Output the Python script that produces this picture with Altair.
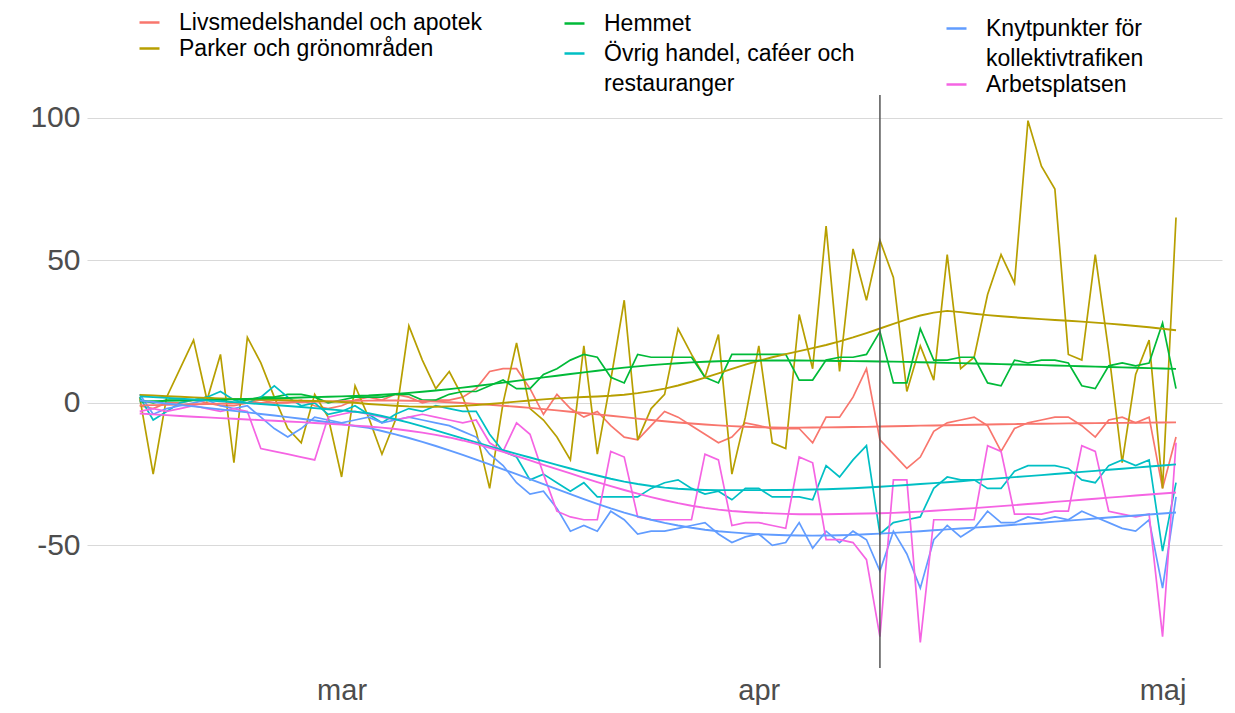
import altair as alt
import pandas as pd

# ---- data (Google mobility, Sverige, 15 feb - 2 maj 2020) ----
startar, startman, startdag = 2020, 2, 15
livsmedel = [-1,-2,0,0,1,0,-1, -1,0,1,0,0,1,-1, -2,-1,1,2,1,3,2, 0,1,1,2,5,11,12,
             12,5,-4,3,-2,-5,-3, -8,-12,-13,-8,-3,-5,-8, -11,-14,-12,-7,-8,-9,-9,
             -9,-14,-5,-5,2,12,-13, -18,-23,-19,-10,-7,-6,-5, -8,-17,-9,-7,-6,-5,-5,
             -8,-12,-6,-5,-7,-5,-30, -12]
parker = [2,-25,2,12,22,1,17, -21,23,14,2,-9,-14,3, -5,-26,6,-5,-18,-6,27,
          15,5,11,2,-10,-30,0, 21,-2,-6,-12,-20,20,-18, 8,36,-13,-2,3,26,17,
          9,24,-25,-5,20,-14,-16, 31,12,62,11,54,36,57, 44,4,20,8,52,12,16,
          38,52,42,99,83,75,17, 15,52,18,-21,10,22,-30, 65]
hemmet = [1,0,1,1,1,2,1, 0,1,2,2,3,3,2, 0,1,2,2,2,3,3, 1,1,3,4,4,6,8,
          5,5,10,12,15,17,16, 9,7,17,16,16,16,16, 9,7,17,17,17,17,17,
          8,8,15,16,16,17,25, 7,7,26,15,15,16,16, 7,6,15,14,15,15,14,
          6,5,13,14,13,14,28, 5]
ovrig = [2,-6,-3,0,1,2,4, 1,0,2,6,2,-1,0, -4,-3,-1,-4,-7,-4,-2, -3,-1,-2,-3,-3,-11,-17,
         -19,-27,-25,-28,-31,-28,-33, -33,-33,-33,-30,-28,-27,-30, -32,-31,-34,-30,-30,-33,-33,
         -33,-34,-22,-26,-20,-15,-46, -42,-41,-40,-30,-26,-27,-27, -30,-30,-24,-22,-22,-22,-23,
         -27,-28,-22,-20,-22,-20,-52, -28]
knytpunkter = [3,-4,-2,-1,0,1,-1, -2,-1,-5,-9,-12,-9,-5, -6,-7,-6,-5,-7,-6,-5,
               -6,-7,-8,-10,-12,-18,-22, -28,-32,-31,-37,-45,-43,-45, -38,-41,-46,-45,-45,-44,-43,
               -42,-46,-49,-47,-46,-50,-49, -42,-51,-45,-49,-45,-48,-59, -45,-53,-65,-48,-43,-47,-44,
               -38,-42,-42,-40,-41,-40,-41, -38,-40,-42,-44,-45,-41,-65, -33]
arbetsplatsen = [-3,-2,-3,-2,-1,-2,-3, -2,-3,-16,-17,-18,-19,-20, -5,-4,-3,-4,-5,-6,-5,
                 -4,-5,-6,-7,-6,-14,-17, -7,-11,-25,-38,-40,-41,-41, -17,-19,-40,-41,-41,-41,-41,
                 -18,-20,-43,-42,-42,-43,-44, -19,-21,-48,-48,-49,-55,-82, -27,-27,-84,-41,-41,-41,-41,
                 -15,-17,-39,-39,-39,-38,-38, -15,-17,-38,-39,-40,-39,-82, -14]

# legend columns: (categories, colours)
kolumner = [
    (["Livsmedelshandel och apotek", "Parker och grönområden"], ["#F8766D", "#B79F00"]),
    (["Hemmet", "Övrig handel, caféer och restauranger"], ["#00BA38", "#00BFC4"]),
    (["Knytpunkter för kollektivtrafiken", "Arbetsplatsen"], ["#619CFF", "#F564E3"]),
]
serier = {
    "Livsmedelshandel och apotek": livsmedel,
    "Parker och grönområden": parker,
    "Hemmet": hemmet,
    "Övrig handel, caféer och restauranger": ovrig,
    "Knytpunkter för kollektivtrafiken": knytpunkter,
    "Arbetsplatsen": arbetsplatsen,
}
radbrytningar = {
    "Övrig handel, caféer och restauranger": ["Övrig handel, caféer och", "restauranger"],
    "Knytpunkter för kollektivtrafiken": ["Knytpunkter för", "kollektivtrafiken"],
}
manader = ["jan", "feb", "mar", "apr", "maj", "jun", "jul", "aug", "sep", "okt", "nov", "dec"]
helgdag = [55]          # långfredagen 10 april (dag-index)
y_ticks = [-50, 0, 50, 100]

rows = []
for kat, vals in serier.items():
    for i, v in enumerate(vals):
        rows.append({"dag": i, "kategori": kat, "varde": v})
df = pd.DataFrame(rows)

tid_expr = f"datetime({startar}, {startman - 1}, {startdag} + datum.dag)"


def js_list(lst):
    return "[" + ",".join("'" + s + "'" for s in lst) + "]"


label_expr = ""
for k, lines in radbrytningar.items():
    label_expr += f"datum.label == '{k}' ? {js_list(lines)} : "
label_expr += "datum.label"
month_expr = js_list(manader) + "[month(datum.value)]"
y_label_expr = "datum.value < 0 ? '-' + abs(datum.value) : '' + datum.value"

x_scale = alt.Scale(domain=[alt.DateTime(year=2020, month=2, date=11, hours=2),
                            alt.DateTime(year=2020, month=5, date=5, hours=10)])
y_scale = alt.Scale(domain=[-93, 108], nice=False, zero=False)

x_axis = alt.Axis(values=[alt.DateTime(year=2020, month=m, date=1) for m in (3, 4, 5)],
                  labelExpr=month_expr, grid=False, ticks=False, domain=False, title=None,
                  labelFontSize=29, labelColor="#4d4d4d", labelPadding=8, labelFont="Liberation Sans")
y_axis = alt.Axis(values=y_ticks, labelExpr=y_label_expr, grid=True, ticks=False, domain=False,
                  title=None, labelFontSize=30, labelColor="#4d4d4d", labelPadding=7,
                  gridColor="#d9d9d9", gridWidth=1.2, labelFont="Liberation Sans")

# legend placement per column (relative to plot area)
legend_pos = [(51, -84, 2), (476, -83, 6), (858, -78, 2)]

raw_layers, smooth_layers = [], []
for (kats, cols), (lx, ly, rp) in zip(kolumner, legend_pos):
    cscale = alt.Scale(domain=kats, range=cols)
    legend = alt.Legend(orient="none", legendX=lx, legendY=ly, direction="vertical", title=None,
                        symbolType="stroke", symbolSize=400, symbolStrokeWidth=2.5,
                        labelFontSize=23, labelFont="Liberation Sans", labelColor="#000000",
                        labelLimit=500, rowPadding=rp, labelOffset=18,
                        labelExpr=label_expr, padding=0)
    sub = df[df["kategori"].isin(kats)]
    base = alt.Chart(sub)
    raw_layers.append(
        base.transform_calculate(tid=tid_expr).mark_line(strokeWidth=1.7).encode(
            x=alt.X("tid:T", scale=x_scale, axis=x_axis),
            y=alt.Y("varde:Q", scale=y_scale, axis=y_axis),
            color=alt.Color("kategori:N", scale=cscale, legend=legend),
        )
    )
    smooth_layers.append(
        base.transform_loess("dag", "varde", groupby=["kategori"], bandwidth=0.45)
        .transform_calculate(tid=tid_expr).mark_line(strokeWidth=1.9).encode(
            x=alt.X("tid:T", scale=x_scale, axis=x_axis),
            y=alt.Y("varde:Q", scale=y_scale, axis=y_axis),
            color=alt.Color("kategori:N", scale=cscale, legend=None),
        )
    )

linje = alt.Chart(pd.DataFrame({"dag": helgdag})).transform_calculate(tid=tid_expr).mark_rule(
    color="#555555", strokeWidth=1.5).encode(x=alt.X("tid:T", scale=x_scale, axis=x_axis))

chart = alt.layer(*raw_layers, *smooth_layers, linje).resolve_scale(
    color="independent"
).properties(
    width=1135, height=573,
    autosize=alt.AutoSizeParams(type="none"),
    padding={"left": 79, "top": 87, "right": 5, "bottom": 37},
).configure(
    font="Liberation Sans",
    view=alt.ViewConfig(stroke=None),
    style={"guide-label": {"lineHeight": 30}},
)

chart.save("out.html", embed_options={"renderer": "svg", "actions": False})
